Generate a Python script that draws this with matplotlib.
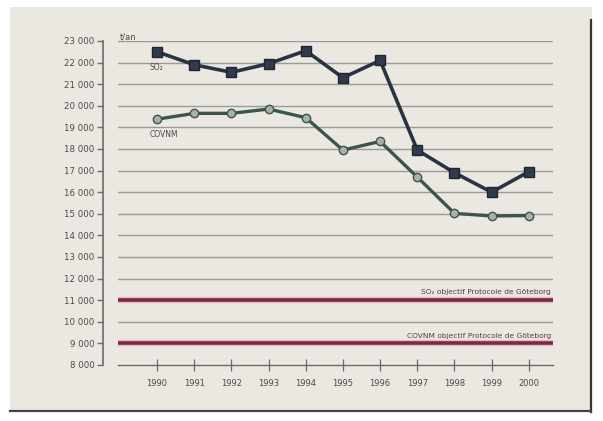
import matplotlib.pyplot as plt
from matplotlib.patches import Rectangle
from matplotlib.ticker import FuncFormatter

years = [1990, 1991, 1992, 1993, 1994, 1995, 1996, 1997, 1998, 1999, 2000]
so2 = [22500, 21900, 21550, 21950, 22550, 21300, 22100, 17950, 16900, 16000, 16950]
covnm = [19380, 19650, 19650, 19850, 19450, 17950, 18350, 16700, 15020, 14900, 14920]
so2_target = 11000
covnm_target = 9000
yticks = list(range(8000, 23001, 1000))

paper = '#ebe8e2'
grey_txt = '#4a4a4a'

fig = plt.figure(figsize=(6.03, 4.21), dpi=100, facecolor='white')

# paper sheet, behind the axes
fig.add_artist(Rectangle((10 / 603, 1 - 412 / 421), 582 / 603, 405 / 421,
                         transform=fig.transFigure, facecolor=paper,
                         edgecolor='none', zorder=-5))
fig.add_artist(plt.Line2D([591 / 603, 591 / 603], [1 - 412 / 421, 1 - 20 / 421],
                          transform=fig.transFigure, color='#3a3530', lw=1.6, zorder=-4))
fig.add_artist(plt.Line2D([10 / 603, 591 / 603], [1 - 411 / 421, 1 - 411 / 421],
                          transform=fig.transFigure, color='#4a4540', lw=1.6, zorder=-4))

ax = fig.add_axes([118 / 603, 1 - 365 / 421, 435 / 603, 324 / 421])
ax.set_facecolor(paper)
ax.set_xlim(1988.95, 2000.65)
ax.set_ylim(8000, 23000)

for v in yticks[1:]:
    ax.axhline(v, color='#9c9a96', lw=1.0, zorder=1)

# Göteborg targets
ax.axhline(so2_target, color='#e6b6c2', lw=4.5, zorder=2)
ax.axhline(so2_target, color='#7a2a42', lw=2.6, zorder=2)
ax.axhline(covnm_target, color='#e6b6c2', lw=4.5, zorder=2)
ax.axhline(covnm_target, color='#7a2a42', lw=2.6, zorder=2)
ax.text(2000.6, so2_target + 220, 'SO₂ objectif Protocole de Göteborg',
        ha='right', va='bottom', fontsize=5.4, color='#5a3a40')
ax.text(2000.6, covnm_target + 220, 'COVNM objectif Protocole de Göteborg',
        ha='right', va='bottom', fontsize=5.4, color='#5a3a40')

ax.plot(years, so2, color='#2a3342', lw=2.6, marker='s', markersize=7,
        markerfacecolor='#2f3a4c', markeredgecolor='#1e2530', zorder=4)
ax.plot(years, covnm, color='#3b554c', lw=2.4, marker='o', markersize=6,
        markerfacecolor='#a9b1aa', markeredgecolor='#3b554c', zorder=4)

ax.text(1989.8, so2[0] - 500, 'SO₂', fontsize=5.5, color=grey_txt, va='top')
ax.text(1989.8, covnm[0] - 500, 'COVNM', fontsize=5.5, color=grey_txt, va='top')
ax.text(1989.0, 23000, 't/an', fontsize=6, color=grey_txt, va='bottom')

ax.set_yticks(yticks)
ax.yaxis.set_major_formatter(FuncFormatter(lambda v, p: f'{int(v):,}'.replace(',', ' ')))
ax.set_xticks(years)
ax.set_xticklabels([str(y) for y in years])

for s in ['top', 'right']:
    ax.spines[s].set_visible(False)
ax.spines['left'].set_position(('outward', 11))
ax.spines['left'].set_color('#6a6a6a')
ax.spines['left'].set_linewidth(1.2)
ax.spines['bottom'].set_color('#6a6a6a')
ax.spines['bottom'].set_linewidth(1.0)

ax.tick_params(axis='y', direction='out', length=4, width=1, color='#6a6a6a',
               labelsize=6.2, labelcolor=grey_txt, pad=2)
ax.tick_params(axis='x', direction='inout', length=8, width=0.9, color='#6a6a6a',
               labelsize=6, labelcolor=grey_txt, pad=6)

fig.savefig('out.png', dpi=100, facecolor=fig.get_facecolor())
